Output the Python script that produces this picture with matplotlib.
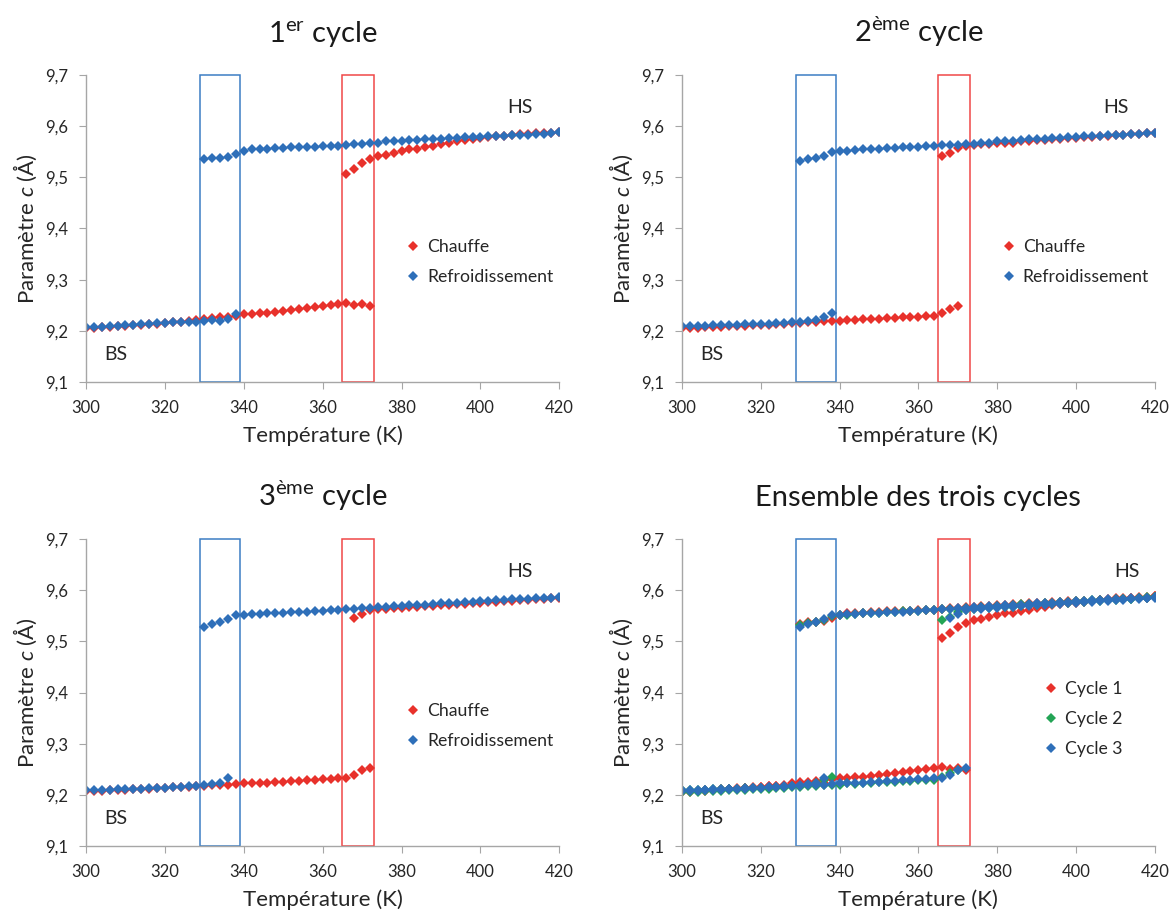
import matplotlib
matplotlib.use("Agg")
from matplotlib import pyplot as plt
from matplotlib.patches import Rectangle
from matplotlib.ticker import FuncFormatter

plt.rcParams['font.family'] = ['Lato', 'DejaVu Sans']
plt.rcParams['mathtext.fontset'] = 'custom'
plt.rcParams['mathtext.rm'] = 'Lato'
plt.rcParams['mathtext.it'] = 'Lato:italic'

# ---- données (paramètre c en Å, pas de 2 K) ----
# cycle 1
c1_heat_low_T = list(range(300, 374, 2))
c1_heat_low = [9.205, 9.206, 9.207, 9.208, 9.209, 9.210, 9.211, 9.212, 9.213, 9.214,
               9.216, 9.217, 9.218, 9.220, 9.222, 9.224, 9.225, 9.227, 9.228, 9.230,
               9.232, 9.232, 9.234, 9.235, 9.237, 9.239, 9.240, 9.243, 9.244, 9.247,
               9.249, 9.251, 9.252, 9.255, 9.250, 9.252, 9.249]
c1_heat_high_T = list(range(366, 422, 2))
c1_heat_high = [9.506, 9.516, 9.528, 9.536, 9.541, 9.544, 9.547, 9.551, 9.555, 9.556,
                9.560, 9.562, 9.566, 9.568, 9.571, 9.573, 9.575, 9.576, 9.578, 9.580,
                9.581, 9.583, 9.585, 9.585, 9.586, 9.587, 9.587, 9.588]
c1_cool_high_T = list(range(330, 422, 2))
c1_cool_high = [9.535, 9.538, 9.538, 9.540, 9.545, 9.551, 9.555, 9.555, 9.556, 9.558,
                9.558, 9.559, 9.559, 9.560, 9.560, 9.562, 9.562, 9.562, 9.564, 9.566,
                9.566, 9.567, 9.568, 9.570, 9.570, 9.571, 9.572, 9.573, 9.574, 9.575,
                9.575, 9.576, 9.577, 9.578, 9.579, 9.579, 9.580, 9.580, 9.581, 9.582,
                9.583, 9.583, 9.585, 9.585, 9.586, 9.588]
c1_cool_low_T = list(range(300, 340, 2))
c1_cool_low = [9.207, 9.207, 9.208, 9.209, 9.210, 9.211, 9.212, 9.213, 9.214, 9.215,
               9.216, 9.217, 9.218, 9.217, 9.218, 9.220, 9.221, 9.220, 9.223, 9.232]

# cycle 2
c2_heat_low_T = list(range(300, 372, 2))
c2_heat_low = [9.205, 9.206, 9.206, 9.207, 9.207, 9.208, 9.209, 9.209, 9.210, 9.211,
               9.211, 9.212, 9.213, 9.214, 9.215, 9.216, 9.217, 9.218, 9.219, 9.219,
               9.220, 9.222, 9.221, 9.223, 9.223, 9.224, 9.225, 9.225, 9.227, 9.227,
               9.228, 9.229, 9.229, 9.234, 9.242, 9.248]
c2_heat_high_T = list(range(366, 422, 2))
c2_heat_high = [9.541, 9.547, 9.558, 9.562, 9.564, 9.565, 9.566, 9.567, 9.567, 9.568,
                9.570, 9.571, 9.572, 9.573, 9.574, 9.575, 9.576, 9.577, 9.578, 9.579,
                9.580, 9.581, 9.582, 9.583, 9.584, 9.585, 9.586, 9.587]
c2_cool_high_T = list(range(330, 422, 2))
c2_cool_high = [9.532, 9.536, 9.538, 9.541, 9.549, 9.552, 9.552, 9.554, 9.555, 9.556,
                9.556, 9.558, 9.558, 9.559, 9.560, 9.560, 9.561, 9.562, 9.563, 9.563,
                9.564, 9.565, 9.566, 9.568, 9.568, 9.570, 9.570, 9.571, 9.573, 9.574,
                9.574, 9.575, 9.576, 9.577, 9.578, 9.579, 9.580, 9.581, 9.581, 9.582,
                9.583, 9.583, 9.584, 9.585, 9.587, 9.587]
c2_cool_low_T = list(range(300, 340, 2))
c2_cool_low = [9.209, 9.209, 9.210, 9.210, 9.211, 9.211, 9.212, 9.212, 9.213, 9.213,
               9.214, 9.214, 9.215, 9.216, 9.217, 9.218, 9.219, 9.222, 9.228, 9.235]

# cycle 3
c3_heat_low_T = list(range(300, 374, 2))
c3_heat_low = [9.207, 9.208, 9.208, 9.209, 9.209, 9.210, 9.211, 9.211, 9.212, 9.213,
               9.214, 9.215, 9.215, 9.216, 9.217, 9.218, 9.219, 9.219, 9.220, 9.221,
               9.222, 9.222, 9.223, 9.223, 9.224, 9.225, 9.226, 9.226, 9.228, 9.228,
               9.230, 9.231, 9.232, 9.233, 9.238, 9.249, 9.253]
c3_heat_high_T = list(range(368, 422, 2))
c3_heat_high = [9.545, 9.554, 9.562, 9.563, 9.564, 9.565, 9.566, 9.567, 9.568, 9.569,
                9.570, 9.571, 9.572, 9.573, 9.574, 9.575, 9.576, 9.577, 9.578, 9.579,
                9.580, 9.581, 9.582, 9.583, 9.584, 9.585, 9.586]
c3_cool_high_T = list(range(330, 422, 2))
c3_cool_high = [9.529, 9.534, 9.538, 9.543, 9.551, 9.552, 9.554, 9.554, 9.555, 9.555,
                9.556, 9.557, 9.558, 9.558, 9.560, 9.560, 9.561, 9.562, 9.563, 9.564,
                9.565, 9.566, 9.567, 9.568, 9.569, 9.570, 9.571, 9.572, 9.572, 9.573,
                9.575, 9.576, 9.576, 9.577, 9.578, 9.579, 9.580, 9.581, 9.582, 9.583,
                9.583, 9.584, 9.585, 9.585, 9.586, 9.587]
c3_cool_low_T = list(range(300, 338, 2))
c3_cool_low = [9.209, 9.209, 9.210, 9.210, 9.211, 9.211, 9.212, 9.212, 9.213, 9.213,
               9.214, 9.215, 9.215, 9.217, 9.218, 9.219, 9.221, 9.222, 9.232]

titles = [r"1$^{\mathrm{er}}$ cycle", r"2$^{\mathrm{ème}}$ cycle",
          r"3$^{\mathrm{ème}}$ cycle", "Ensemble des trois cycles"]
x_ticks = [300, 320, 340, 360, 380, 400, 420]
y_ticks = [9.1, 9.2, 9.3, 9.4, 9.5, 9.6, 9.7]

RED = '#E8312B'
BLUE = '#2E6FB9'
GREEN = '#23A455'

cycles = [
    (c1_heat_low_T + c1_heat_high_T, c1_heat_low + c1_heat_high,
     c1_cool_high_T + c1_cool_low_T, c1_cool_high + c1_cool_low),
    (c2_heat_low_T + c2_heat_high_T, c2_heat_low + c2_heat_high,
     c2_cool_high_T + c2_cool_low_T, c2_cool_high + c2_cool_low),
    (c3_heat_low_T + c3_heat_high_T, c3_heat_low + c3_heat_high,
     c3_cool_high_T + c3_cool_low_T, c3_cool_high + c3_cool_low),
]

fig = plt.figure(figsize=(11.72, 9.14), dpi=100)
positions = [[0.0734, 0.582, 0.4038, 0.336], [0.5817, 0.582, 0.4038, 0.336],
             [0.0734, 0.0746, 0.4038, 0.3354], [0.5817, 0.0746, 0.4038, 0.3354]]

mk = dict(marker='D', markersize=4.6, linestyle='none', markeredgewidth=0)

for i in range(4):
    ax = fig.add_axes(positions[i])
    if i < 3:
        hT, h, cT, c = cycles[i]
        ax.plot(hT, h, color=RED, label='Chauffe', **mk)
        ax.plot(cT, c, color=BLUE, label='Refroidissement', **mk)
        leg_anchor = (0.635, 0.39)
    else:
        for (hT, h, cT, c), col, lab in zip(cycles, [RED, GREEN, BLUE],
                                           ['Cycle 1', 'Cycle 2', 'Cycle 3']):
            ax.plot(hT + cT, h + c, color=col, label=lab, **mk)
        leg_anchor = (0.725, 0.414)

    # zones de transition
    ax.add_patch(Rectangle((329, 9.1), 10, 0.6, fill=False, edgecolor='#3C7DC4', lw=1.1, clip_on=False))
    ax.add_patch(Rectangle((365, 9.1), 8, 0.6, fill=False, edgecolor='#F04848', lw=1.1, clip_on=False))

    ax.set_xlim(300, 420)
    ax.set_ylim(9.1, 9.7)
    ax.set_xticks(x_ticks)
    ax.set_yticks(y_ticks)
    ax.yaxis.set_major_formatter(FuncFormatter(lambda v, p: f"{v:.1f}".replace('.', ',')))
    for s in ['top', 'right']:
        ax.spines[s].set_visible(False)
    for s in ['left', 'bottom']:
        ax.spines[s].set_color('#A6A6A6')
        ax.spines[s].set_linewidth(1.0)
    ax.tick_params(axis='both', direction='out', length=5, color='#A6A6A6',
                   labelsize=12, labelcolor='#262626', pad=8)

    ax.set_xlabel('Température (K)', fontsize=16, color='#262626', labelpad=7)
    ax.set_ylabel(r'Paramètre $\mathit{c}$ (Å)', fontsize=16, color='#262626', labelpad=4)
    ax.set_title(titles[i], fontsize=21, color='#1a1a1a', pad=24)

    hs_x = 410 if i < 3 else 413
    ax.text(hs_x, 9.637, 'HS', fontsize=14, color='#262626', ha='center', va='center')
    ax.text(307.5, 9.154, 'BS', fontsize=14, color='#262626', ha='center', va='center')

    ax.legend(loc='center left', bbox_to_anchor=leg_anchor, frameon=False,
              fontsize=12.7, handletextpad=0.2, labelspacing=0.8, handlelength=1.2,
              labelcolor='#262626')

fig.savefig('out.png', dpi=100)
